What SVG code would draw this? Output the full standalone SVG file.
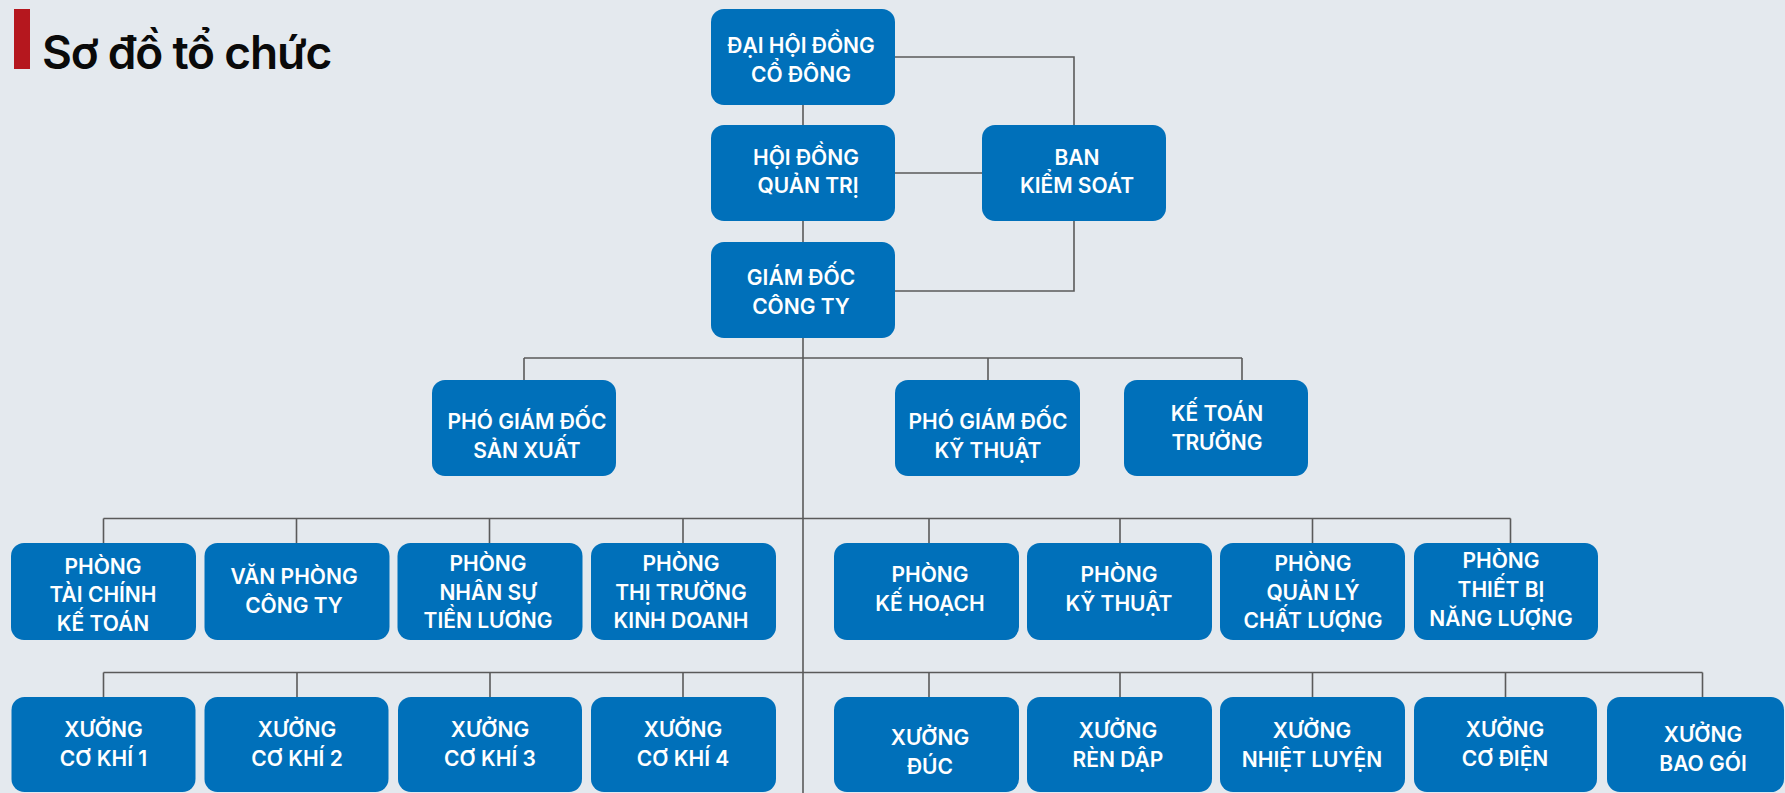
<svg xmlns="http://www.w3.org/2000/svg" width="1785" height="793" viewBox="0 0 1785 793">
<style>
.bg{fill:#E4E9EE}
.box{fill:#0070BA}
.t{font-family:Inter,"Noto Sans","Liberation Sans",sans-serif;font-size:21px;font-weight:600;fill:#FFFFFF;text-anchor:middle}
.ln{fill:none;stroke:#5A5A5A;stroke-width:1.6}
.title{font-family:Inter,"Noto Sans","Liberation Sans",sans-serif;font-size:46px;font-weight:600;fill:#0A0A0A}
</style>
<rect class="bg" x="0" y="0" width="1785" height="793"/>
<rect x="14" y="9" width="16" height="60" fill="#B5171E"/>
<text class="title" x="42" y="69" letter-spacing="-1.2">Sơ đồ tổ chức</text>

<g id="connectors">
<path class="ln" d="M803,105V125M803,221V242M895,57H1074V125M895,173H982M1074,221V291H895M803,338V793"/>
<path class="ln" d="M524,358H1242M524,358V380M988,358V380M1242,358V380"/>
<path class="ln" d="M103.5,518.5H1510.5M103.5,518.5V543M296.5,518.5V543M489.5,518.5V543M683,518.5V543M929,518.5V543M1120,518.5V543M1312.5,518.5V543M1510.5,518.5V543"/>
<path class="ln" d="M103.5,672.5H1702.5M103.5,672.5V697M297,672.5V697M490,672.5V697M683,672.5V697M929,672.5V697M1120,672.5V697M1312.5,672.5V697M1505.5,672.5V697M1702.5,672.5V697"/>
</g>

<g id="dhdcd"><rect class="box" x="711" y="9" width="184" height="96" rx="13"/><text class="t" x="801" y="53">ĐẠI HỘI ĐỒNG</text><text class="t" x="801" y="82">CỔ ĐÔNG</text></g>
<g id="hdqt"><rect class="box" x="711" y="125" width="184" height="96" rx="13"/><text class="t" x="806" y="165">HỘI ĐỒNG</text><text class="t" x="808" y="193">QUẢN TRỊ</text></g>
<g id="gd"><rect class="box" x="711" y="242" width="184" height="96" rx="13"/><text class="t" x="801" y="285">GIÁM ĐỐC</text><text class="t" x="801" y="314">CÔNG TY</text></g>
<g id="bks"><rect class="box" x="982" y="125" width="184" height="96" rx="13"/><text class="t" x="1077" y="165">BAN</text><text class="t" x="1077" y="193">KIỂM SOÁT</text></g>

<g id="pgdsx"><rect class="box" x="432" y="380" width="184" height="96" rx="13"/><text class="t" x="527" y="429">PHÓ GIÁM ĐỐC</text><text class="t" x="527" y="458">SẢN XUẤT</text></g>
<g id="pgdkt"><rect class="box" x="895" y="380" width="185" height="96" rx="13"/><text class="t" x="988" y="429">PHÓ GIÁM ĐỐC</text><text class="t" x="988" y="458">KỸ THUẬT</text></g>
<g id="ktt"><rect class="box" x="1124" y="380" width="184" height="96" rx="13"/><text class="t" x="1217" y="421">KẾ TOÁN</text><text class="t" x="1217" y="450">TRƯỞNG</text></g>

<g id="p-tckt"><rect class="box" x="11" y="543" width="185" height="97" rx="13"/><text class="t" x="103" y="574">PHÒNG</text><text class="t" x="103" y="602">TÀI CHÍNH</text><text class="t" x="103" y="631">KẾ TOÁN</text></g>
<g id="p-vpct"><rect class="box" x="204.5" y="543" width="185" height="97" rx="13"/><text class="t" x="294" y="584">VĂN PHÒNG</text><text class="t" x="294" y="613">CÔNG TY</text></g>
<g id="p-nstl"><rect class="box" x="397.5" y="543" width="185" height="97" rx="13"/><text class="t" x="488" y="571">PHÒNG</text><text class="t" x="488" y="599.5">NHÂN SỰ</text><text class="t" x="488" y="628">TIỀN LƯƠNG</text></g>
<g id="p-ttkd"><rect class="box" x="591" y="543" width="185" height="97" rx="13"/><text class="t" x="681" y="571">PHÒNG</text><text class="t" x="681" y="599.5">THỊ TRƯỜNG</text><text class="t" x="681" y="628">KINH DOANH</text></g>
<g id="p-kh"><rect class="box" x="834" y="543" width="185" height="97" rx="13"/><text class="t" x="930" y="582">PHÒNG</text><text class="t" x="930" y="611">KẾ HOẠCH</text></g>
<g id="p-kt"><rect class="box" x="1027" y="543" width="185" height="97" rx="13"/><text class="t" x="1119" y="582">PHÒNG</text><text class="t" x="1119" y="611">KỸ THUẬT</text></g>
<g id="p-qlcl"><rect class="box" x="1220" y="543" width="185" height="97" rx="13"/><text class="t" x="1313" y="571">PHÒNG</text><text class="t" x="1313" y="600">QUẢN LÝ</text><text class="t" x="1313" y="628">CHẤT LƯỢNG</text></g>
<g id="p-tbnl"><rect class="box" x="1414" y="543" width="184" height="97" rx="13"/><text class="t" x="1501" y="568">PHÒNG</text><text class="t" x="1501" y="596.5">THIẾT BỊ</text><text class="t" x="1501" y="626">NĂNG LƯỢNG</text></g>

<g id="x-ck1"><rect class="box" x="11.5" y="697" width="184" height="95" rx="13"/><text class="t" x="103.5" y="737">XƯỞNG</text><text class="t" x="103.5" y="766">CƠ KHÍ 1</text></g>
<g id="x-ck2"><rect class="box" x="204.5" y="697" width="184" height="95" rx="13"/><text class="t" x="297" y="737">XƯỞNG</text><text class="t" x="297" y="766">CƠ KHÍ 2</text></g>
<g id="x-ck3"><rect class="box" x="398" y="697" width="184" height="95" rx="13"/><text class="t" x="490" y="737">XƯỞNG</text><text class="t" x="490" y="766">CƠ KHÍ 3</text></g>
<g id="x-ck4"><rect class="box" x="591" y="697" width="185" height="95" rx="13"/><text class="t" x="683" y="737">XƯỞNG</text><text class="t" x="683" y="766">CƠ KHÍ 4</text></g>
<g id="x-duc"><rect class="box" x="834" y="697" width="185" height="95" rx="13"/><text class="t" x="930" y="745">XƯỞNG</text><text class="t" x="930" y="774">ĐÚC</text></g>
<g id="x-rd"><rect class="box" x="1027" y="697" width="185" height="95" rx="13"/><text class="t" x="1118" y="738">XƯỞNG</text><text class="t" x="1118" y="767">RÈN DẬP</text></g>
<g id="x-nl"><rect class="box" x="1220" y="697" width="185" height="95" rx="13"/><text class="t" x="1312" y="738">XƯỞNG</text><text class="t" x="1312" y="767">NHIỆT LUYỆN</text></g>
<g id="x-cd"><rect class="box" x="1414" y="697" width="183" height="95" rx="13"/><text class="t" x="1505" y="737">XƯỞNG</text><text class="t" x="1505" y="766">CƠ ĐIỆN</text></g>
<g id="x-bg"><rect class="box" x="1607" y="697" width="177" height="95" rx="13"/><text class="t" x="1703" y="742">XƯỞNG</text><text class="t" x="1703" y="771">BAO GÓI</text></g>
</svg>
